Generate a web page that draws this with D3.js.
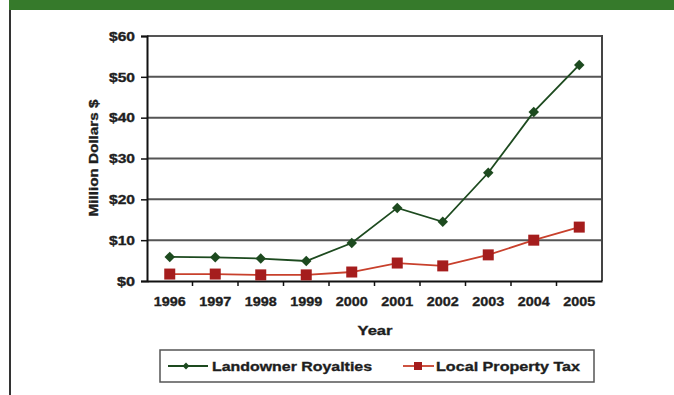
<!DOCTYPE html>
<html><head><meta charset="utf-8">
<script src="https://cdn.jsdelivr.net/npm/d3@7"></script>
<style>html,body{margin:0;padding:0;background:#fff;}svg{display:block;}</style>
</head><body>
<script>
const years = ["1996","1997","1998","1999","2000","2001","2002","2003","2004","2005"];
const royalties = [5.9, 5.8, 5.5, 4.9, 9.3, 17.9, 14.5, 26.5, 41.4, 52.9];
const propertyTax = [1.7, 1.7, 1.5, 1.5, 2.2, 4.4, 3.7, 6.4, 10.0, 13.2];
const yTicks = [0, 10, 20, 30, 40, 50, 60];
const seriesNames = ["Landowner Royalties", "Local Property Tax"];

const W = 674, H = 395;
const svg = d3.select("body").append("svg").attr("width", W).attr("height", H);
const font = "Arial, 'Liberation Sans', sans-serif";
const txtC = "#1e1e1e";
function styleText(sel, size) {
  sel.attr("font-family", font).attr("font-weight", "bold").attr("font-size", size)
    .attr("fill", txtC).attr("stroke", txtC).attr("stroke-width", 0.35);
}

// frame decoration
svg.append("rect").attr("x", 9).attr("y", 0).attr("width", W - 9).attr("height", 10).attr("fill", "#367a2b");
svg.append("rect").attr("x", 9).attr("y", 10).attr("width", 2).attr("height", H - 10).attr("fill", "#333");

const m = {left: 147, right: 602, top: 36, bottom: 281};
const x = d3.scaleBand().domain(years).range([m.left, m.right]);
const y = d3.scaleLinear().domain([0, 60]).range([m.bottom, m.top]);

// gridlines
svg.append("g").selectAll("line").data(yTicks.filter(d => d > 0)).join("line")
  .attr("x1", m.left).attr("x2", m.right)
  .attr("y1", d => y(d)).attr("y2", d => y(d))
  .attr("stroke", "#555").attr("stroke-width", 2);
// right border
svg.append("line").attr("x1", m.right).attr("x2", m.right).attr("y1", m.top - 1).attr("y2", m.bottom)
  .attr("stroke", "#444").attr("stroke-width", 2);

// y axis
const yAxis = d3.axisLeft(y).tickValues(yTicks).tickFormat(d => "$" + d).tickSize(6).tickPadding(6);
const gy = svg.append("g").attr("transform", `translate(${m.left},0)`).call(yAxis);
gy.select(".domain").attr("stroke", "#111").attr("stroke-width", 2);
gy.selectAll(".tick line").attr("stroke", "#111").attr("stroke-width", 1.5);
styleText(gy.selectAll("text"), 13);
gy.selectAll("text").attr("textLength", d => d === 0 ? 18 : 26).attr("lengthAdjust", "spacingAndGlyphs");

// x axis
const xAxis = d3.axisBottom(x).tickSize(0).tickPadding(15);
const gx = svg.append("g").attr("transform", `translate(0,${m.bottom})`).call(xAxis);
gx.select(".domain").attr("stroke", "#111").attr("stroke-width", 2);
styleText(gx.selectAll("text"), 13.5);
gx.selectAll("text").attr("textLength", 32).attr("lengthAdjust", "spacingAndGlyphs");
// category boundary ticks
svg.append("g").selectAll("line").data(years.slice(1)).join("line")
  .attr("x1", d => x(d)).attr("x2", d => x(d))
  .attr("y1", m.bottom).attr("y2", m.bottom + 5)
  .attr("stroke", "#111").attr("stroke-width", 1.5);

// axis titles
styleText(svg.append("text").attr("x", 375).attr("y", 335).attr("text-anchor", "middle")
  .attr("textLength", 35).attr("lengthAdjust", "spacingAndGlyphs").text("Year"), 13.5);
styleText(svg.append("text").attr("transform", "translate(98,158) rotate(-90)").attr("text-anchor", "middle")
  .attr("textLength", 117).attr("lengthAdjust", "spacingAndGlyphs").text("Million Dollars $"), 13.5);

const line = d3.line().x((d, i) => x(years[i]) + x.bandwidth() / 2).y(d => y(d));
const greenC = "#1d4a1f", redC = "#a51d1d";

// property tax
svg.append("path").datum(propertyTax).attr("d", line).attr("fill", "none").attr("stroke", "#c8402c").attr("stroke-width", 1.8);
svg.append("g").selectAll("rect").data(propertyTax).join("rect")
  .attr("x", (d, i) => x(years[i]) + x.bandwidth() / 2 - 5.5).attr("y", d => y(d) - 5.5)
  .attr("width", 11).attr("height", 11).attr("fill", redC);

// royalties
svg.append("path").datum(royalties).attr("d", line).attr("fill", "none").attr("stroke", greenC).attr("stroke-width", 1.8);
const diamond = d3.symbol().type(d3.symbolDiamond2).size(70);
svg.append("g").selectAll("path").data(royalties).join("path")
  .attr("d", diamond)
  .attr("transform", (d, i) => `translate(${x(years[i]) + x.bandwidth() / 2},${y(d)})`)
  .attr("fill", greenC);

// legend
const lg = svg.append("g");
lg.append("rect").attr("x", 160).attr("y", 350).attr("width", 434).attr("height", 32)
  .attr("fill", "#fff").attr("stroke", "#555").attr("stroke-width", 1.5);
const ly = 366;
lg.append("line").attr("x1", 168).attr("x2", 208).attr("y1", ly).attr("y2", ly).attr("stroke", greenC).attr("stroke-width", 1.8);
lg.append("path").attr("d", d3.symbol().type(d3.symbolDiamond2).size(30)).attr("transform", `translate(186,${ly})`).attr("fill", greenC);
styleText(lg.append("text").attr("x", 212).attr("y", ly + 5).attr("textLength", 160).attr("lengthAdjust", "spacingAndGlyphs").text(seriesNames[0]), 13.5);
lg.append("line").attr("x1", 403).attr("x2", 434).attr("y1", ly).attr("y2", ly).attr("stroke", "#c8402c").attr("stroke-width", 1.8);
lg.append("rect").attr("x", 414).attr("y", ly - 4).attr("width", 8).attr("height", 8).attr("fill", redC);
styleText(lg.append("text").attr("x", 436).attr("y", ly + 5).attr("textLength", 144).attr("lengthAdjust", "spacingAndGlyphs").text(seriesNames[1]), 13.5);
</script>
</body></html>
